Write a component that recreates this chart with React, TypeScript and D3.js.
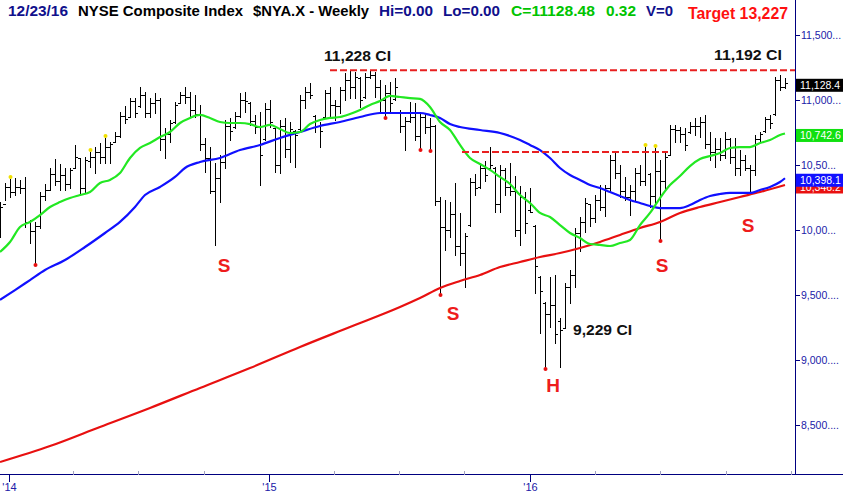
import React from 'react';
import * as d3 from 'd3';

const W = 843;
const H = 494;
const FONT = '"Liberation Sans", Arial, sans-serif';

// weekly bars, first bar week ending 2013-12-20
const startDate = new Date(2013, 11, 20);

const highs = [
  10215, 10361, 10392, 10400, 10385, 10408, 10077, 10062, 10292, 10354,
  10477, 10546, 10508, 10477, 10477, 10654, 10554, 10562, 10600, 10638,
  10669, 10708, 10677, 10754, 10908, 10954, 11015, 11015, 11100, 11062,
  11015, 11054, 11015, 10785, 10846, 10985, 11062, 11100, 11062, 11038,
  10962, 10708, 10638, 10515, 10577, 10846, 10862, 10908, 11054, 11062,
  10985, 10885, 10908, 10977, 11000, 10785, 10846, 10862, 10831, 10769,
  11038, 11100, 11131, 10885, 10831, 11077, 11100, 11000, 11100, 11208,
  11231, 11215, 11177, 11208, 11228, 11215, 11154, 11115, 11138, 11169,
  10920, 10869, 10985, 10977, 10908, 10900, 10862, 10808, 10254, 10231,
  10215, 10361, 10131, 9977, 10400, 10431, 10515, 10531, 10638, 10485,
  10500, 10477, 10515, 10415, 10338, 10292, 10323, 10038, 9646, 9446,
  9638, 9654, 9323, 9592, 9692, 10015, 10100, 10246, 10200, 10269,
  10346, 10346, 10577, 10600, 10500, 10408, 10346, 10477, 10500, 10638,
  10438, 10631, 10538, 10592, 10808, 10808, 10792, 10785, 10831, 10862,
  10869, 10885, 10754, 10708, 10708, 10754, 10708, 10708, 10615, 10577,
  10500, 10731, 10754, 10869, 10885, 11177, 11192, 11169,
];

const lows = [
  9946, 10231, 10254, 10269, 10285, 10023, 9900, 9746, 10015, 10231,
  10308, 10346, 10308, 10308, 10323, 10477, 10269, 10285, 10485, 10438,
  10515, 10515, 10515, 10677, 10715, 10823, 10869, 10869, 10946, 10869,
  10869, 10900, 10615, 10554, 10677, 10823, 10977, 10977, 10869, 10869,
  10615, 10446, 10285, 9885, 10215, 10477, 10692, 10785, 10869, 10908,
  10808, 10746, 10346, 10692, 10792, 10446, 10438, 10562, 10523, 10485,
  10769, 10938, 11015, 10754, 10638, 10862, 10862, 10846, 10900, 11000,
  11015, 11015, 10946, 11015, 11169, 11023, 10908, 10877, 10908, 11000,
  10754, 10615, 10831, 10692, 10631, 10746, 10623, 10192, 9515, 9846,
  9946, 9808, 9731, 9562, 10031, 10269, 10323, 10377, 10477, 10138,
  10138, 10269, 10269, 9954, 9885, 9977, 10138, 9515, 9208, 8946,
  9254, 9131, 8946, 9246, 9438, 9562, 9838, 9985, 10031, 10062,
  10154, 10108, 10292, 10400, 10254, 10231, 10115, 10231, 10346, 10346,
  10177, 10192, 9931, 10308, 10577, 10677, 10677, 10615, 10746, 10731,
  10715, 10631, 10538, 10485, 10538, 10554, 10515, 10423, 10423, 10462,
  10285, 10423, 10677, 10754, 10785, 10885, 11077, 11092,
];

const opens = [
  10100, 10200, 10330, 10290, 10330, 10320, 10060, 9990, 10030, 10260,
  10310, 10430, 10380, 10420, 10350, 10480, 10550, 10320, 10530, 10560,
  10600, 10560, 10640, 10680, 10720, 10880, 10870, 10990, 10950, 11040,
  10900, 10980, 11000, 10700, 10740, 10830, 10980, 11040, 11020, 10920,
  10890, 10660, 10550, 10300, 10400, 10520, 10800, 10790, 10880, 11000,
  10980, 10840, 10790, 10700, 10930, 10785, 10500, 10800, 10620, 10760,
  10780, 11000, 11060, 10880, 10800, 10870, 11050, 10960, 10950, 11080,
  11150, 11100, 11170, 11020, 11180, 11190, 11100, 11000, 11050, 11010,
  10900, 10800, 10840, 10870, 10720, 10870, 10790, 10800, 10220, 10020,
  10000, 10120, 9880, 9820, 10040, 10370, 10330, 10480, 10480, 10480,
  10200, 10460, 10330, 10300, 10000, 10250, 10150, 10030, 9640, 9440,
  9350, 9420, 9300, 9250, 9560, 9650, 9980, 10060, 10200, 10090,
  10230, 10180, 10320, 10540, 10440, 10300, 10250, 10300, 10440, 10380,
  10430, 10260, 10450, 10380, 10580, 10780, 10770, 10740, 10750, 10800,
  10800, 10830, 10660, 10600, 10620, 10580, 10700, 10560, 10480, 10540,
  10480, 10460, 10700, 10760, 10850, 10890, 11150, 11100,
];

const closes = [
  10180, 10330, 10290, 10330, 10320, 10060, 9990, 10030, 10260, 10310,
  10430, 10380, 10420, 10350, 10460, 10560, 10320, 10540, 10560, 10600,
  10560, 10640, 10660, 10720, 10880, 10850, 10990, 10900, 11040, 10900,
  10980, 11000, 10700, 10740, 10820, 10960, 11040, 11020, 10920, 10890,
  10660, 10550, 10300, 10400, 10520, 10800, 10760, 10880, 11000, 10990,
  10840, 10790, 10580, 10930, 10830, 10500, 10800, 10620, 10780, 10730,
  11000, 11060, 11040, 10800, 10760, 11050, 10960, 10950, 11080, 11150,
  11100, 11180, 11000, 11180, 11190, 11100, 11000, 11050, 10980, 11100,
  10800, 10840, 10870, 10720, 10870, 10790, 10800, 10220, 10020, 10000,
  10120, 9880, 9820, 9950, 10370, 10320, 10480, 10420, 10500, 10200,
  10460, 10330, 10300, 10000, 10250, 10050, 10140, 9720, 9530, 9350,
  9420, 9200, 9229, 9560, 9650, 9980, 10060, 10210, 10090, 10230,
  10180, 10320, 10540, 10440, 10300, 10250, 10300, 10440, 10380, 10600,
  10260, 10450, 10380, 10560, 10780, 10770, 10740, 10650, 10800, 10800,
  10830, 10660, 10600, 10620, 10580, 10700, 10560, 10480, 10540, 10480,
  10460, 10700, 10740, 10850, 10820, 11150, 11100, 11128.48,
];

// moving averages: [bar index, value]
const greenMA: [number, number][] = [
  [0, 9831], [2, 9908], [4, 10023], [6, 10062], [8, 10115], [10, 10177], [12, 10215],
  [14, 10246], [16, 10269], [18, 10292], [20, 10362], [22, 10385], [24, 10438], [26, 10554],
  [28, 10631], [30, 10669], [32, 10715], [34, 10754], [36, 10823], [38, 10862], [40, 10885],
  [42, 10862], [44, 10831], [46, 10823], [48, 10823], [50, 10815], [52, 10792], [54, 10808],
  [56, 10777], [58, 10746], [60, 10754], [62, 10815], [64, 10846], [66, 10862], [68, 10869],
  [70, 10892], [72, 10923], [74, 10962], [76, 10992], [78, 11031], [80, 11023], [82, 11015],
  [84, 11008], [86, 10946], [88, 10831], [90, 10769], [92, 10654], [94, 10554], [96, 10508],
  [98, 10462], [100, 10408], [102, 10354], [104, 10269], [106, 10208], [108, 10131], [110, 10100],
  [112, 10038], [114, 9977], [116, 9938], [118, 9892], [120, 9885], [122, 9877], [124, 9900],
  [126, 9923], [128, 10038], [130, 10131], [132, 10246], [134, 10346], [136, 10415], [138, 10492],
  [140, 10546], [142, 10569], [144, 10592], [146, 10631], [148, 10638], [150, 10638], [152, 10669],
  [154, 10692], [156, 10731], [157, 10742.6],
];

const blueMA: [number, number][] = [
  [0, 9462], [3, 9538], [6, 9615], [9, 9692], [13, 9769], [17, 9869], [21, 9977], [24, 10062],
  [27, 10177], [29, 10269], [32, 10331], [35, 10408], [37, 10477], [40, 10523], [44, 10554],
  [48, 10615], [52, 10654], [56, 10708], [60, 10754], [64, 10800], [68, 10831], [72, 10869],
  [76, 10900], [80, 10900], [84, 10900], [86, 10885], [88, 10862], [90, 10815], [92, 10792],
  [96, 10769], [100, 10746], [104, 10692], [106, 10654], [108, 10615], [110, 10554], [112, 10477],
  [114, 10423], [116, 10385], [118, 10346], [120, 10323], [122, 10292], [124, 10262], [126, 10231],
  [128, 10208], [130, 10185], [132, 10169], [134, 10169], [136, 10169], [138, 10192], [140, 10231],
  [142, 10262], [144, 10277], [146, 10285], [148, 10285], [150, 10285], [152, 10308], [154, 10331],
  [156, 10369], [157, 10398.1],
];

const redMA: [number, number][] = [
  [0, 8215], [10, 8338], [20, 8485], [30, 8631], [40, 8785], [50, 8938], [60, 9100], [70, 9254],
  [80, 9408], [84, 9477], [88, 9554], [92, 9608], [96, 9654], [100, 9715], [104, 9754],
  [108, 9792], [112, 9823], [116, 9862], [120, 9908], [124, 9962], [128, 10015], [132, 10062],
  [136, 10131], [140, 10177], [144, 10215], [148, 10254], [152, 10292], [157, 10346.2],
];

const yTicks = [11500, 11000, 10500, 10000, 9500, 9000, 8500];
const yTickLabels = ['11,500...', '11,000...', '10,50...', '10,00...', '9,500....', '9,000....', '8,500....'];

const highDots = [2, 18, 21, 129, 131];
const lowDots = [7, 77, 84, 86, 88, 109, 132];

const topLine = { value: 11228, fromBar: 66 };
const neckLine = { value: 10600, fromBar: 92.4, toBar: 133.6 };

// label anchor: bar position, baseline value
const patternLabels = [
  { text: 'S', bar: 44.8, value: 9677 },
  { text: 'S', bar: 90.6, value: 9308 },
  { text: 'H', bar: 110.6, value: 8754 },
  { text: 'S', bar: 132.4, value: 9677 },
  { text: 'S', bar: 149.6, value: 9985 },
];

const priceNotes = [
  { text: '11,228 CI', bar: 64.8, value: 11300, w: 67 },
  { text: '11,192 CI', bar: 142.8, value: 11308, w: 68 },
  { text: '9,229 CI', bar: 114.6, value: 9192, w: 59 },
];

const header = [
  { text: '12/23/16', x: 8, w: 60, color: '#10108c' },
  { text: 'NYSE Composite Index', x: 78, w: 165, color: '#000000' },
  { text: '$NYA.X - Weekly', x: 253, w: 116, color: '#000000' },
  { text: 'Hi=0.00', x: 379, w: 54, color: '#10108c' },
  { text: 'Lo=0.00', x: 443, w: 57, color: '#10108c' },
  { text: 'C=11128.48', x: 511, w: 84, color: '#00c400' },
  { text: '0.32', x: 606, w: 30, color: '#00c400' },
  { text: 'V=0', x: 646, w: 27, color: '#10108c' },
];

const lastLabels = [
  { value: 10346.2, fill: '#e81010' },
  { value: 10398.1, fill: '#1010ff' },
  { value: 10742.6, fill: '#10e010' },
  { value: 11128.48, fill: '#000000' },
];

export default function App() {
  const n = closes.length;
  const axisX = 795.5;
  const axisY = 474.5;
  const x = d3.scaleLinear().domain([0, n - 1]).range([0, 785]);
  const y = d3.scaleLinear().domain([8115.4, 11769.2]).range([475, 0]);
  const dates = closes.map((_, i) => d3.timeDay.offset(startDate, i * 7));
  const t = d3.scaleTime().domain([dates[0], dates[n - 1]]).range([0, 785]);
  const quarterTicks = d3.timeMonth.every(3)!.range(new Date(2014, 0, 1), new Date(2017, 0, 2));

  const line = d3
    .line<[number, number]>()
    .x((d) => x(d[0]))
    .y((d) => y(d[1]))
    .curve(d3.curveMonotoneX);

  const px = (i: number) => Math.round(x(i)) + 0.5;
  const trunc1 = (v: number) => d3.format(',.1f')(Math.floor(v * 10) / 10);

  return (
    <svg
      width={W}
      height={H}
      viewBox={`0 0 ${W} ${H}`}
      style={{ position: 'absolute', left: 0, top: 0, background: '#fff', fontFamily: FONT }}
    >
      <rect x={0} y={0} width={W} height={H} fill="#ffffff" />
      <defs>
        <clipPath id="plot">
          <rect x={0} y={0} width={axisX} height={axisY} />
        </clipPath>
      </defs>

      <g clipPath="url(#plot)">
        {/* OHLC bars */}
        <g stroke="#000" strokeWidth={1} shapeRendering="crispEdges">
          {closes.map((c, i) => {
            const xi = px(i);
            const yo = Math.round(y(opens[i])) + 0.5;
            const yc = Math.round(y(c)) + 0.5;
            return (
              <g key={i}>
                <line x1={xi} x2={xi} y1={Math.round(y(highs[i]))} y2={Math.round(y(lows[i])) + 1} />
                <line x1={xi - 2.5} x2={xi} y1={yo} y2={yo} />
                <line x1={xi} x2={xi + 2.5} y1={yc} y2={yc} />
              </g>
            );
          })}
        </g>

        {/* moving averages */}
        <path d={line(redMA) || ''} fill="none" stroke="#e81010" strokeWidth={2.2} />
        <path d={line(blueMA) || ''} fill="none" stroke="#1010ff" strokeWidth={2.2} />
        <path d={line(greenMA) || ''} fill="none" stroke="#22e822" strokeWidth={2.2} />

        {/* dashed resistance lines */}
        <line
          x1={x(topLine.fromBar)}
          x2={axisX}
          y1={y(topLine.value)}
          y2={y(topLine.value)}
          stroke="#e82020"
          strokeWidth={2}
          strokeDasharray="7,3"
        />
        <line
          x1={x(neckLine.fromBar)}
          x2={x(neckLine.toBar)}
          y1={y(neckLine.value)}
          y2={y(neckLine.value)}
          stroke="#e82020"
          strokeWidth={2}
          strokeDasharray="7,3"
        />

        {/* marker dots */}
        {highDots.map((i) => (
          <circle key={'h' + i} cx={px(i)} cy={y(highs[i]) - 2} r={2} fill="#f0e000" />
        ))}
        {lowDots.map((i) => (
          <circle key={'l' + i} cx={px(i)} cy={y(lows[i]) + 2} r={2} fill="#e81010" />
        ))}
      </g>

      {/* pattern labels */}
      {patternLabels.map((p, k) => (
        <text
          key={'p' + k}
          x={x(p.bar)}
          y={y(p.value)}
          textAnchor="middle"
          fontSize={19}
          fontWeight="bold"
          fill="#ee1c1c"
        >
          {p.text}
        </text>
      ))}
      {priceNotes.map((p, k) => (
        <text
          key={'n' + k}
          x={x(p.bar)}
          y={y(p.value)}
          fontSize={15}
          fontWeight="bold"
          fill="#111"
          textLength={p.w}
          lengthAdjust="spacingAndGlyphs"
        >
          {p.text}
        </text>
      ))}

      {/* header */}
      {header.map((h, k) => (
        <text
          key={'hd' + k}
          x={h.x}
          y={16}
          fontSize={14}
          fontWeight="bold"
          fill={h.color}
          textLength={h.w}
          lengthAdjust="spacingAndGlyphs"
        >
          {h.text}
        </text>
      ))}
      <text x={688} y={19} fontSize={16} fontWeight="bold" fill="#ff1010" textLength={100} lengthAdjust="spacingAndGlyphs">
        Target 13,227
      </text>

      {/* axes */}
      <line x1={axisX} x2={axisX} y1={0} y2={axisY} stroke="#000080" strokeWidth={1} shapeRendering="crispEdges" />
      <line x1={0} x2={W} y1={axisY} y2={axisY} stroke="#000080" strokeWidth={1} shapeRendering="crispEdges" />

      {yTicks.map((v, k) => (
        <g key={'yt' + k}>
          <line x1={axisX} x2={axisX + 4} y1={Math.round(y(v)) + 0.5} y2={Math.round(y(v)) + 0.5} stroke="#000080" shapeRendering="crispEdges" />
          <text x={801} y={y(v)} dy="0.36em" fontSize={10.5} fill="#2020a8">
            {yTickLabels[k]}
          </text>
        </g>
      ))}

      {/* last value boxes (later ones drawn on top, as in the reference) */}
      {lastLabels.map((l, k) => {
        const cy = y(l.value) + 2;
        return (
          <g key={'lv' + k}>
            <rect x={796} y={cy - 6.5} width={W - 796} height={13} fill={l.fill} />
            <text x={800} y={cy} dy="0.36em" fontSize={10.5} fill="#ffffff">
              {trunc1(l.value)}
            </text>
          </g>
        );
      })}

      {quarterTicks.map((d, k) => {
        const xx = Math.round(t(d)) + 0.5;
        const major = d.getMonth() === 0 && d <= dates[n - 1];
        return (
          <g key={'xt' + k}>
            {major ? (
              <>
                <line x1={xx} x2={xx} y1={axisY} y2={axisY + 7} stroke="#000080" shapeRendering="crispEdges" />
                <text x={xx} y={491} textAnchor="middle" fontSize={11} fill="#2020a8">
                  {"'" + d3.timeFormat('%y')(d)}
                </text>
              </>
            ) : (
              <line x1={xx} x2={xx} y1={axisY - 4} y2={axisY} stroke="#a0a0c0" shapeRendering="crispEdges" />
            )}
          </g>
        );
      })}
    </svg>
  );
}
